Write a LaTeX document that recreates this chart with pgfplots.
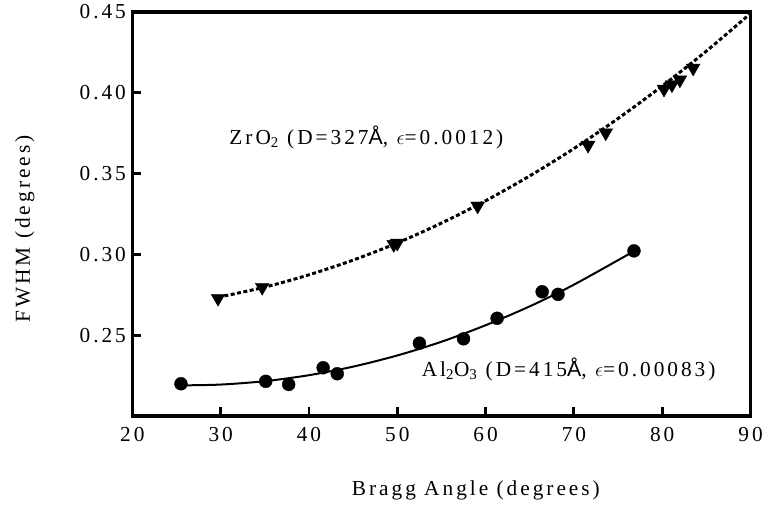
\documentclass[border=0pt]{standalone}
\usepackage{fontspec}
\setmainfont{Liberation Serif}[LetterSpace=14]
\newfontfamily\sansA{Liberation Sans}
\usepackage{pgfplots}
\pgfplotsset{compat=1.18}

% measured points
\pgfplotstableread{
x y
25.5 0.2200
35.1 0.2215
37.7 0.2196
41.6 0.2299
43.2 0.2262
52.5 0.2451
57.5 0.2478
61.3 0.2605
66.4 0.2769
68.2 0.2753
76.8 0.3022
}\alumina

\pgfplotstableread{
x y
29.7 0.2729
34.7 0.2797
49.6 0.3062
50.0 0.3070
59.1 0.3300
71.6 0.3676
73.6 0.3752
80.2 0.4023
81.1 0.4050
82.0 0.4080
83.5 0.4153
}\zirconia

% fitted curves
\pgfplotstableread{
x y
25.5 0.2190
30 0.2195
35 0.2216
40 0.2253
45 0.2306
50 0.2375
55 0.2460
60 0.2562
65 0.2679
70 0.2813
76.8 0.3020
}\aluminafit

\pgfplotstableread{
x y
29.7 0.2735
35 0.2798
40 0.2874
45 0.2965
50 0.3071
55 0.3194
60 0.3332
65 0.3486
70 0.3655
75 0.3841
80 0.4042
85 0.4258
90 0.4491
}\zirconiafit

\newcommand\bigfont{\fontsize{21.5}{25}\selectfont}

\begin{document}
\begin{tikzpicture}
\begin{axis}[
  scale only axis,
  width=621bp, height=406bp,
  xmin=20, xmax=90, ymin=0.20, ymax=0.45,
  xtick={20,30,...,90},
  ytick={0.25,0.30,0.35,0.40,0.45},
  axis line style={line width=3.2bp},
  tick style={line width=3bp, black},
  major tick length=9bp,
  tick align=inside,
  xtick pos=left, ytick pos=left,
  /pgf/number format/assume math mode=true,
  yticklabel style={/pgf/number format/fixed, /pgf/number format/fixed zerofill,
    /pgf/number format/precision=2, xshift=-3bp},
  tick label style={font=\bigfont},
  label style={font=\bigfont},
  xticklabel style={yshift=-8bp},
  xlabel={Bragg Angle (degrees)},
  ylabel={FWHM (degrees)},
  xlabel style={at={(axis description cs:0.5556,-0.185)}, anchor=center},
  ylabel style={at={(axis description cs:-0.1739,0.463)}, anchor=center},
  clip=false,
]
\addplot[black, line width=2bp, smooth] table {\aluminafit};
\addplot[black, line width=3bp, dash pattern=on 4bp off 2.5bp, smooth] table {\zirconiafit};
\addplot[only marks, mark=*, mark size=6.5bp, black] table {\alumina};
\addplot[only marks, mark=triangle*, mark size=8bp, black, mark options={rotate=180}] table {\zirconia};
\node[font=\bigfont] at (axis cs:46.5,0.3723) {ZrO\textsubscript{2} (D=327{\sansA Å}, $\epsilon$=0.0012)};
\node[font=\bigfont] at (axis cs:69.4,0.2287) {Al\textsubscript{2}O\textsubscript{3} (D=415{\sansA Å}, $\epsilon$=0.00083)};
\coordinate (sw) at (rel axis cs:0,0);
\coordinate (ne) at (rel axis cs:1,1);
\end{axis}
\path ([shift={(-133bp,-90bp)}]sw) rectangle ([shift={(12bp,12bp)}]ne);
\end{tikzpicture}
\end{document}
